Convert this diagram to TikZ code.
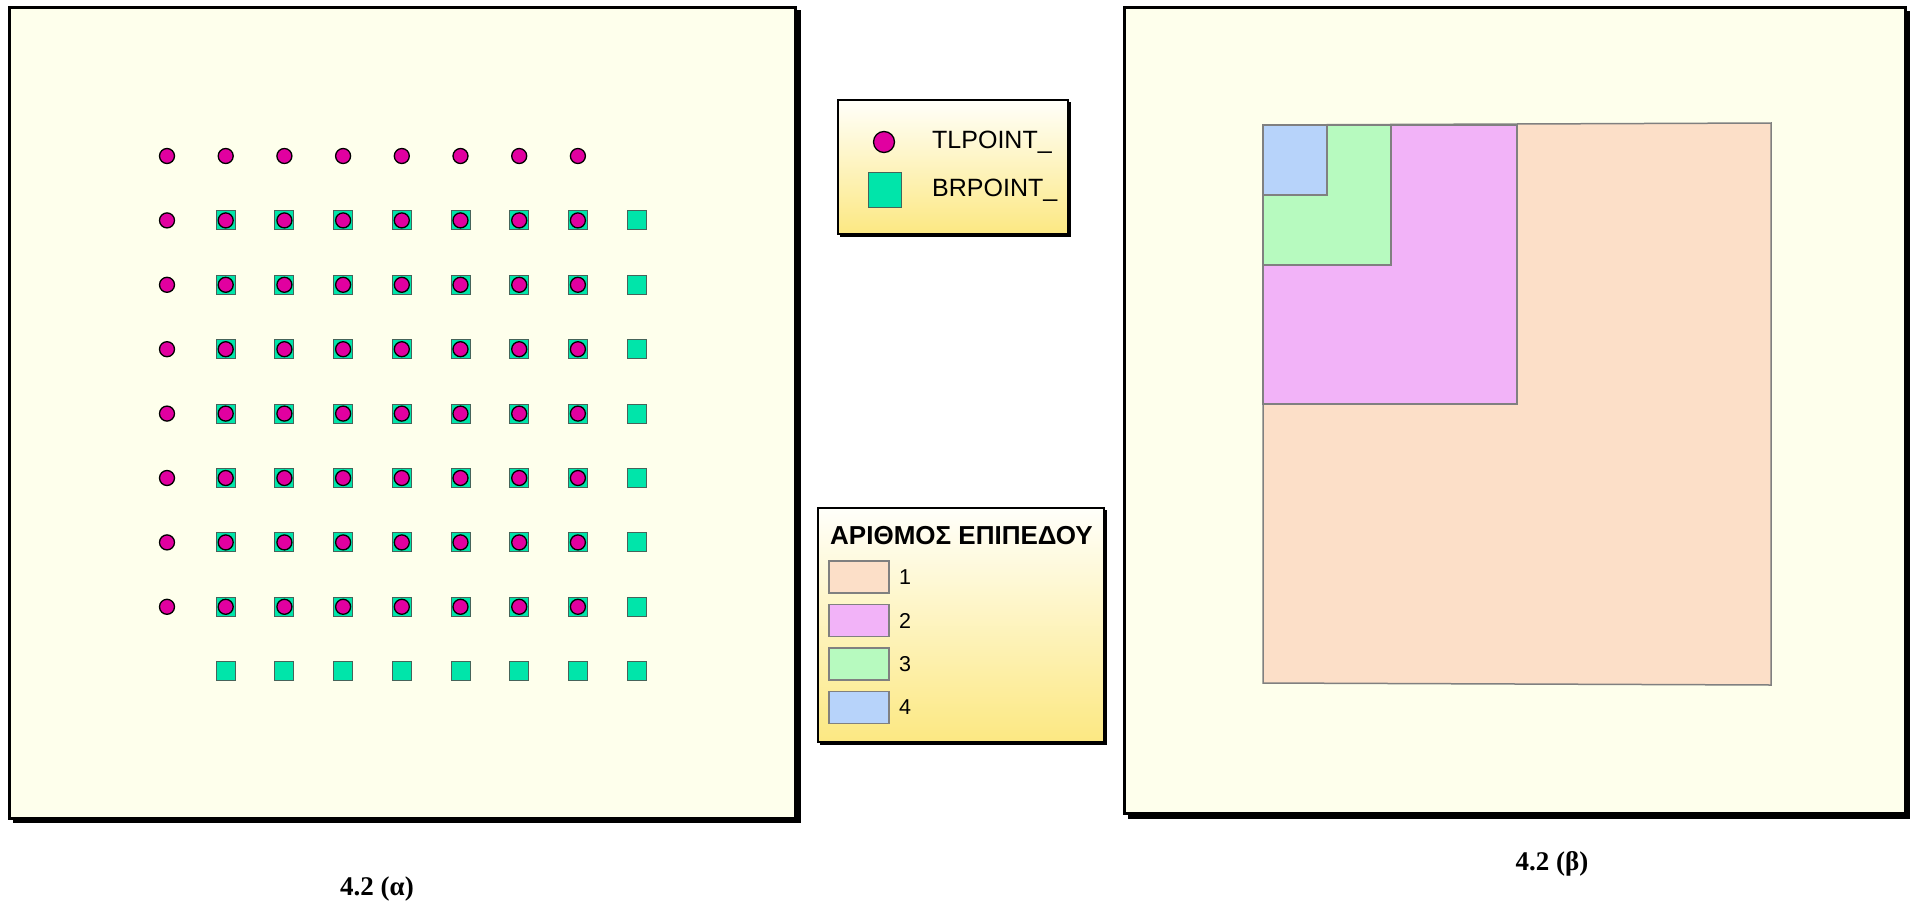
\documentclass[tikz,border=0pt]{standalone}
\usepackage{fontspec}
\setmainfont{Liberation Serif}
\newfontfamily\arialf{Liberation Sans}
\definecolor{panelbg}{RGB}{254,255,236}
\definecolor{tlfill}{RGB}{225,0,160}
\definecolor{brfill}{RGB}{0,229,170}
\definecolor{brdraw}{RGB}{70,100,90}
\definecolor{lvla}{RGB}{252,223,200}
\definecolor{lvlb}{RGB}{242,179,248}
\definecolor{lvlc}{RGB}{183,250,191}
\definecolor{lvld}{RGB}{183,211,250}
\definecolor{lvledge}{RGB}{128,128,128}
\definecolor{legtop}{RGB}{255,255,250}
\definecolor{legbot}{RGB}{252,232,130}
\tikzset{
  panel/.style={fill=panelbg,draw=black,line width=3pt},
  shadowbox/.style={fill=black},
  tlpt/.style={circle,fill=tlfill,draw=black,line width=1.3pt,minimum size=15pt,inner sep=0pt},
  brpt/.style={rectangle,fill=brfill,draw=brdraw,line width=1pt,minimum size=19pt,inner sep=0pt},
  legend/.style={draw=black,line width=2pt,top color=legtop,bottom color=legbot},
  swatch/.style={draw=lvledge,line width=1.3pt},
  level/.style={draw=lvledge,line width=1.5pt},
  legtext/.style={font=\arialf\fontsize{25}{25}\selectfont,anchor=west,inner sep=0pt},
  numtext/.style={font=\arialf\fontsize{21.5}{21.5}\selectfont,anchor=west,inner sep=0pt},
  caption/.style={font=\bfseries\fontsize{27}{27}\selectfont,anchor=base,inner sep=0pt}
}
\begin{document}
\begin{tikzpicture}[x=1pt,y=-1pt]
\useasboundingbox[fill=white] (0,0) rectangle (1910,907);
% left panel
\fill[shadowbox] (12.5,10.5) rectangle (800.5,823);
\draw[panel] (9.5,7.5) rectangle (795.5,818);
% right panel
\fill[shadowbox] (1127.5,11) rectangle (1910,818.5);
\draw[panel] (1124.5,8) rectangle (1905.5,813.5);
% grid of points
\foreach \i in {0,...,7} {
  \foreach \j in {0,...,7} {
    \pgfmathsetmacro{\sx}{167+58.7*(\i+1)}
    \pgfmathsetmacro{\sy}{156+64.4*(\j+1)}
    \node[brpt] (s-\i-\j) at (\sx,\sy) {};
  }
}
\foreach \i in {0,...,7} {
  \foreach \j in {0,...,7} {
    \pgfmathsetmacro{\cx}{167+58.7*\i}
    \pgfmathsetmacro{\cy}{156+64.4*\j}
    \node[tlpt] (c-\i-\j) at (\cx,\cy) {};
  }
}
% legend 1
\fill[shadowbox] (840,102) rectangle (1071,237);
\draw[legend] (838,100) rectangle (1068,234);
\node[tlpt,minimum size=21pt] (legc) at (884,142) {};
\node[brpt,minimum width=33pt,minimum height=35pt] (legs) at (885,190) {};
\node[legtext] (legct) at (932,142) {TLPOINT\_};
\node[legtext] (legst) at (932,190) {BRPOINT\_};
% legend 2
\fill[shadowbox] (820,510) rectangle (1107,745);
\draw[legend] (818,508) rectangle (1104,742);
\node[legtext,font=\arialf\bfseries\fontsize{26}{26}\selectfont] (legtitle) at (830,536) {ΑΡΙΘΜΟΣ ΕΠΙΠΕΔΟΥ};
\draw[swatch,fill=lvla] (829,561) rectangle (889,593);
\draw[swatch,fill=lvlb] (829,604.5) rectangle (889,636.5);
\draw[swatch,fill=lvlc] (829,648) rectangle (889,680);
\draw[swatch,fill=lvld] (829,691.5) rectangle (889,723.5);
\node[numtext] (n1) at (899,577) {1};
\node[numtext] (n2) at (899,620.5) {2};
\node[numtext] (n3) at (899,664) {3};
\node[numtext] (n4) at (899,707.5) {4};
% levels
\draw[level,fill=lvla] (1263,125) -- (1771,123) -- (1771,685) -- (1263,683) -- cycle;
\draw[level,fill=lvlb] (1263,125) rectangle (1517,404);
\draw[level,fill=lvlc] (1263,125) rectangle (1391,265);
\draw[level,fill=lvld] (1263,125) rectangle (1327,195);
% captions
\node[caption] (capa) at (377,895) {4.2 (α)};
\node[caption] (capb) at (1552,870) {4.2 (β)};
\end{tikzpicture}
\end{document}
